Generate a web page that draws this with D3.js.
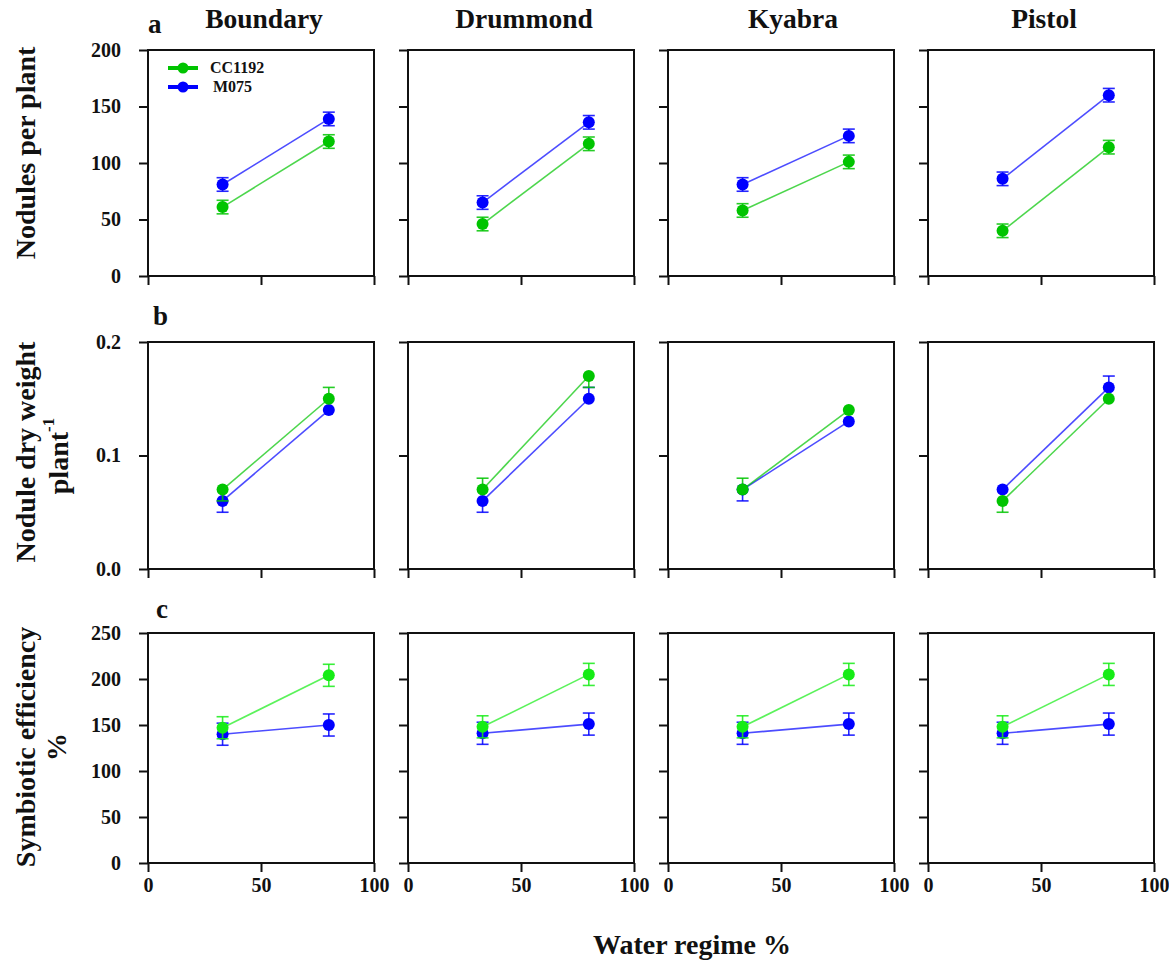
<!DOCTYPE html>
<html>
<head>
<meta charset="utf-8">
<script src="https://cdn.jsdelivr.net/npm/d3@7"></script>
<style>
  html, body { margin: 0; padding: 0; background: #fff; }
  svg text { font-family: "Liberation Serif", "Times New Roman", serif; font-weight: bold; fill: #111; }
</style>
</head>
<body>
<svg id="chart" width="1169" height="965"></svg>
<script>
// ---- data ----
const waterRegime = [33, 80];
const cultivars = ["Boundary", "Drummond", "Kyabra", "Pistol"];
const strains = ["CC1192", "M075"];

// a: nodules per plant (value at each water regime, per cultivar)
const nodulesCC1192 = [[61, 119], [46, 117], [58, 101], [40, 114]];
const nodulesM075   = [[81, 139], [65, 136], [81, 124], [86, 160]];
const nodulesErrCC1192 = [[6, 6], [6, 6], [6, 6], [6, 6]];
const nodulesErrM075   = [[6, 6], [6, 6], [6, 6], [6, 6]];

// b: nodule dry weight per plant (error bars drawn one-sided)
const dryWeightCC1192 = [[0.07, 0.15], [0.07, 0.17], [0.07, 0.14], [0.06, 0.15]];
const dryWeightM075   = [[0.06, 0.14], [0.06, 0.15], [0.07, 0.13], [0.07, 0.16]];
const dryWeightErrUpCC1192 = [[0, 0.01], [0.01, 0], [0.01, 0], [0, 0]];
const dryWeightErrDnCC1192 = [[0.01, 0], [0, 0.01], [0, 0], [0.01, 0]];
const dryWeightErrUpM075   = [[0, 0], [0, 0.01], [0, 0], [0, 0.01]];
const dryWeightErrDnM075   = [[0.01, 0], [0.01, 0], [0.01, 0], [0, 0]];

// c: symbiotic efficiency %
const efficiencyCC1192 = [[147, 204], [148, 205], [148, 205], [148, 205]];
const efficiencyM075   = [[140, 150], [141, 151], [141, 151], [141, 151]];
const efficiencyErrCC1192 = [[12, 12], [12, 12], [12, 12], [12, 12]];
const efficiencyErrM075   = [[12, 12], [12, 12], [12, 12], [12, 12]];

// axis ticks
const xTicks = [0, 50, 100];
const nodulesTicks = [0, 50, 100, 150, 200];
const dryWeightTicks = [0, 0.1, 0.2];
const efficiencyTicks = [0, 50, 100, 150, 200, 250];

// ---- layout ----
const svg = d3.select("#chart");
const panelW = 226, colStep = 260, firstLeft = 148;
const colors = {
  CC1192: { ab: "#00c400", c: "#16ec16" },
  M075:   { ab: "#0000ff", c: "#0000ff" }
};

const rows = [
  { key: "a", top: 50, bottom: 276, domain: [0, 200], ticks: nodulesTicks, fmt: d3.format("d"),
    letterX: 148, letterY: 33,
    series: [
      { name: "M075", vals: nodulesM075, up: nodulesErrM075, dn: nodulesErrM075 },
      { name: "CC1192", vals: nodulesCC1192, up: nodulesErrCC1192, dn: nodulesErrCC1192 }
    ] },
  { key: "b", top: 342, bottom: 569, domain: [0, 0.2], ticks: dryWeightTicks, fmt: d3.format(".1f"),
    letterX: 153, letterY: 325,
    series: [
      { name: "M075", vals: dryWeightM075, up: dryWeightErrUpM075, dn: dryWeightErrDnM075 },
      { name: "CC1192", vals: dryWeightCC1192, up: dryWeightErrUpCC1192, dn: dryWeightErrDnCC1192 }
    ] },
  { key: "c", top: 633, bottom: 863, domain: [0, 250], ticks: efficiencyTicks, fmt: d3.format("d"),
    letterX: 156, letterY: 618,
    series: [
      { name: "M075", vals: efficiencyM075, up: efficiencyErrM075, dn: efficiencyErrM075 },
      { name: "CC1192", vals: efficiencyCC1192, up: efficiencyErrCC1192, dn: efficiencyErrCC1192 }
    ] }
];

rows.forEach((row, ri) => {
  const y = d3.scaleLinear().domain(row.domain).range([row.bottom, row.top]);

  cultivars.forEach((cv, ci) => {
    const left = firstLeft + ci * colStep;
    const x = d3.scaleLinear().domain([0, 100]).range([left, left + panelW]);
    const g = svg.append("g");

    // frame
    g.append("rect")
      .attr("x", left).attr("y", row.top)
      .attr("width", panelW).attr("height", row.bottom - row.top)
      .attr("fill", "none").attr("stroke", "#111").attr("stroke-width", 2);

    // y axis
    const yAxis = d3.axisLeft(y).tickValues(row.ticks).tickSizeInner(9).tickSizeOuter(0).tickPadding(18)
      .tickFormat(ci === 0 ? row.fmt : () => "");
    const ya = g.append("g").attr("transform", `translate(${left},0)`).call(yAxis);
    ya.select(".domain").remove();
    ya.selectAll("line").attr("stroke", "#111").attr("stroke-width", 2);
    ya.selectAll("text").style("font-size", "20px").attr("fill", "#111");

    // x axis
    const xAxis = d3.axisBottom(x).tickValues(xTicks).tickSizeInner(9).tickSizeOuter(0).tickPadding(6)
      .tickFormat(ri === 2 ? d3.format("d") : () => "");
    const xa = g.append("g").attr("transform", `translate(0,${row.bottom})`).call(xAxis);
    xa.select(".domain").remove();
    xa.selectAll("line").attr("stroke", "#111").attr("stroke-width", 2);
    xa.selectAll("text").style("font-size", "20px").attr("fill", "#111");

    // series: line, error bars, markers
    row.series.forEach(s => {
      const col = colors[s.name][ri === 2 ? "c" : "ab"];
      const pts = waterRegime.map((w, i) => ({
        w, v: s.vals[ci][i], up: s.up[ci][i], dn: s.dn[ci][i]
      }));
      const line = d3.line().x(d => x(d.w)).y(d => y(d.v));
      g.append("path").datum(pts).attr("d", line)
        .attr("fill", "none").attr("stroke", col).attr("stroke-width", 1.6).attr("stroke-opacity", 0.7);

      const eb = g.append("g").attr("stroke", col).attr("stroke-width", 1.6).attr("stroke-opacity", 0.85);
      pts.forEach(d => {
        const cx = x(d.w);
        if (d.up > 0) {
          eb.append("line").attr("x1", cx).attr("x2", cx).attr("y1", y(d.v)).attr("y2", y(d.v + d.up));
          eb.append("line").attr("x1", cx - 6).attr("x2", cx + 6).attr("y1", y(d.v + d.up)).attr("y2", y(d.v + d.up));
        }
        if (d.dn > 0) {
          eb.append("line").attr("x1", cx).attr("x2", cx).attr("y1", y(d.v)).attr("y2", y(d.v - d.dn));
          eb.append("line").attr("x1", cx - 6).attr("x2", cx + 6).attr("y1", y(d.v - d.dn)).attr("y2", y(d.v - d.dn));
        }
      });

      g.selectAll(null).data(pts).enter().append("circle")
        .attr("cx", d => x(d.w)).attr("cy", d => y(d.v)).attr("r", 6)
        .attr("fill", col);
    });

    // column titles above the first row
    if (ri === 0) {
      svg.append("text")
        .attr("x", left + panelW / 2 + (ci === 2 ? 12 : 3)).attr("y", 28)
        .attr("text-anchor", "middle").style("font-size", "27.5px")
        .text(cv);
    }
  });

  // panel letter
  svg.append("text").attr("x", row.letterX).attr("y", row.letterY)
    .style("font-size", "27px").text(row.key);
});

// legend inside the first panel
const legend = svg.append("g");
strains.forEach((s, i) => {
  const ly = 68 + i * 19;
  legend.append("line").attr("x1", 168).attr("x2", 198).attr("y1", ly).attr("y2", ly)
    .attr("stroke", colors[s].ab).attr("stroke-width", 4);
  legend.append("circle").attr("cx", 183).attr("cy", ly).attr("r", 5.5).attr("fill", colors[s].ab);
  legend.append("text").attr("x", i === 0 ? 210 : 213).attr("y", ly + 5)
    .style("font-size", "16px").text(s);
});

// y-axis titles
function vText(x, y, txt, size) {
  return svg.append("text")
    .attr("transform", `translate(${x},${y}) rotate(-90)`)
    .attr("text-anchor", "middle").attr("dominant-baseline", "central")
    .style("font-size", size + "px").text(txt);
}
vText(25, 153, "Nodules per plant", 28);
vText(25, 452, "Nodule dry weight", 28);
const p = vText(58, 456, "plant", 28);
p.append("tspan").attr("baseline-shift", "super").style("font-size", "17px").text("-1");
vText(25, 747, "Symbiotic efficiency", 28);
vText(56, 747, "%", 28);

// x-axis title
svg.append("text").attr("x", 692).attr("y", 954)
  .attr("text-anchor", "middle").style("font-size", "28px")
  .text("Water regime %");
</script>
</body>
</html>
